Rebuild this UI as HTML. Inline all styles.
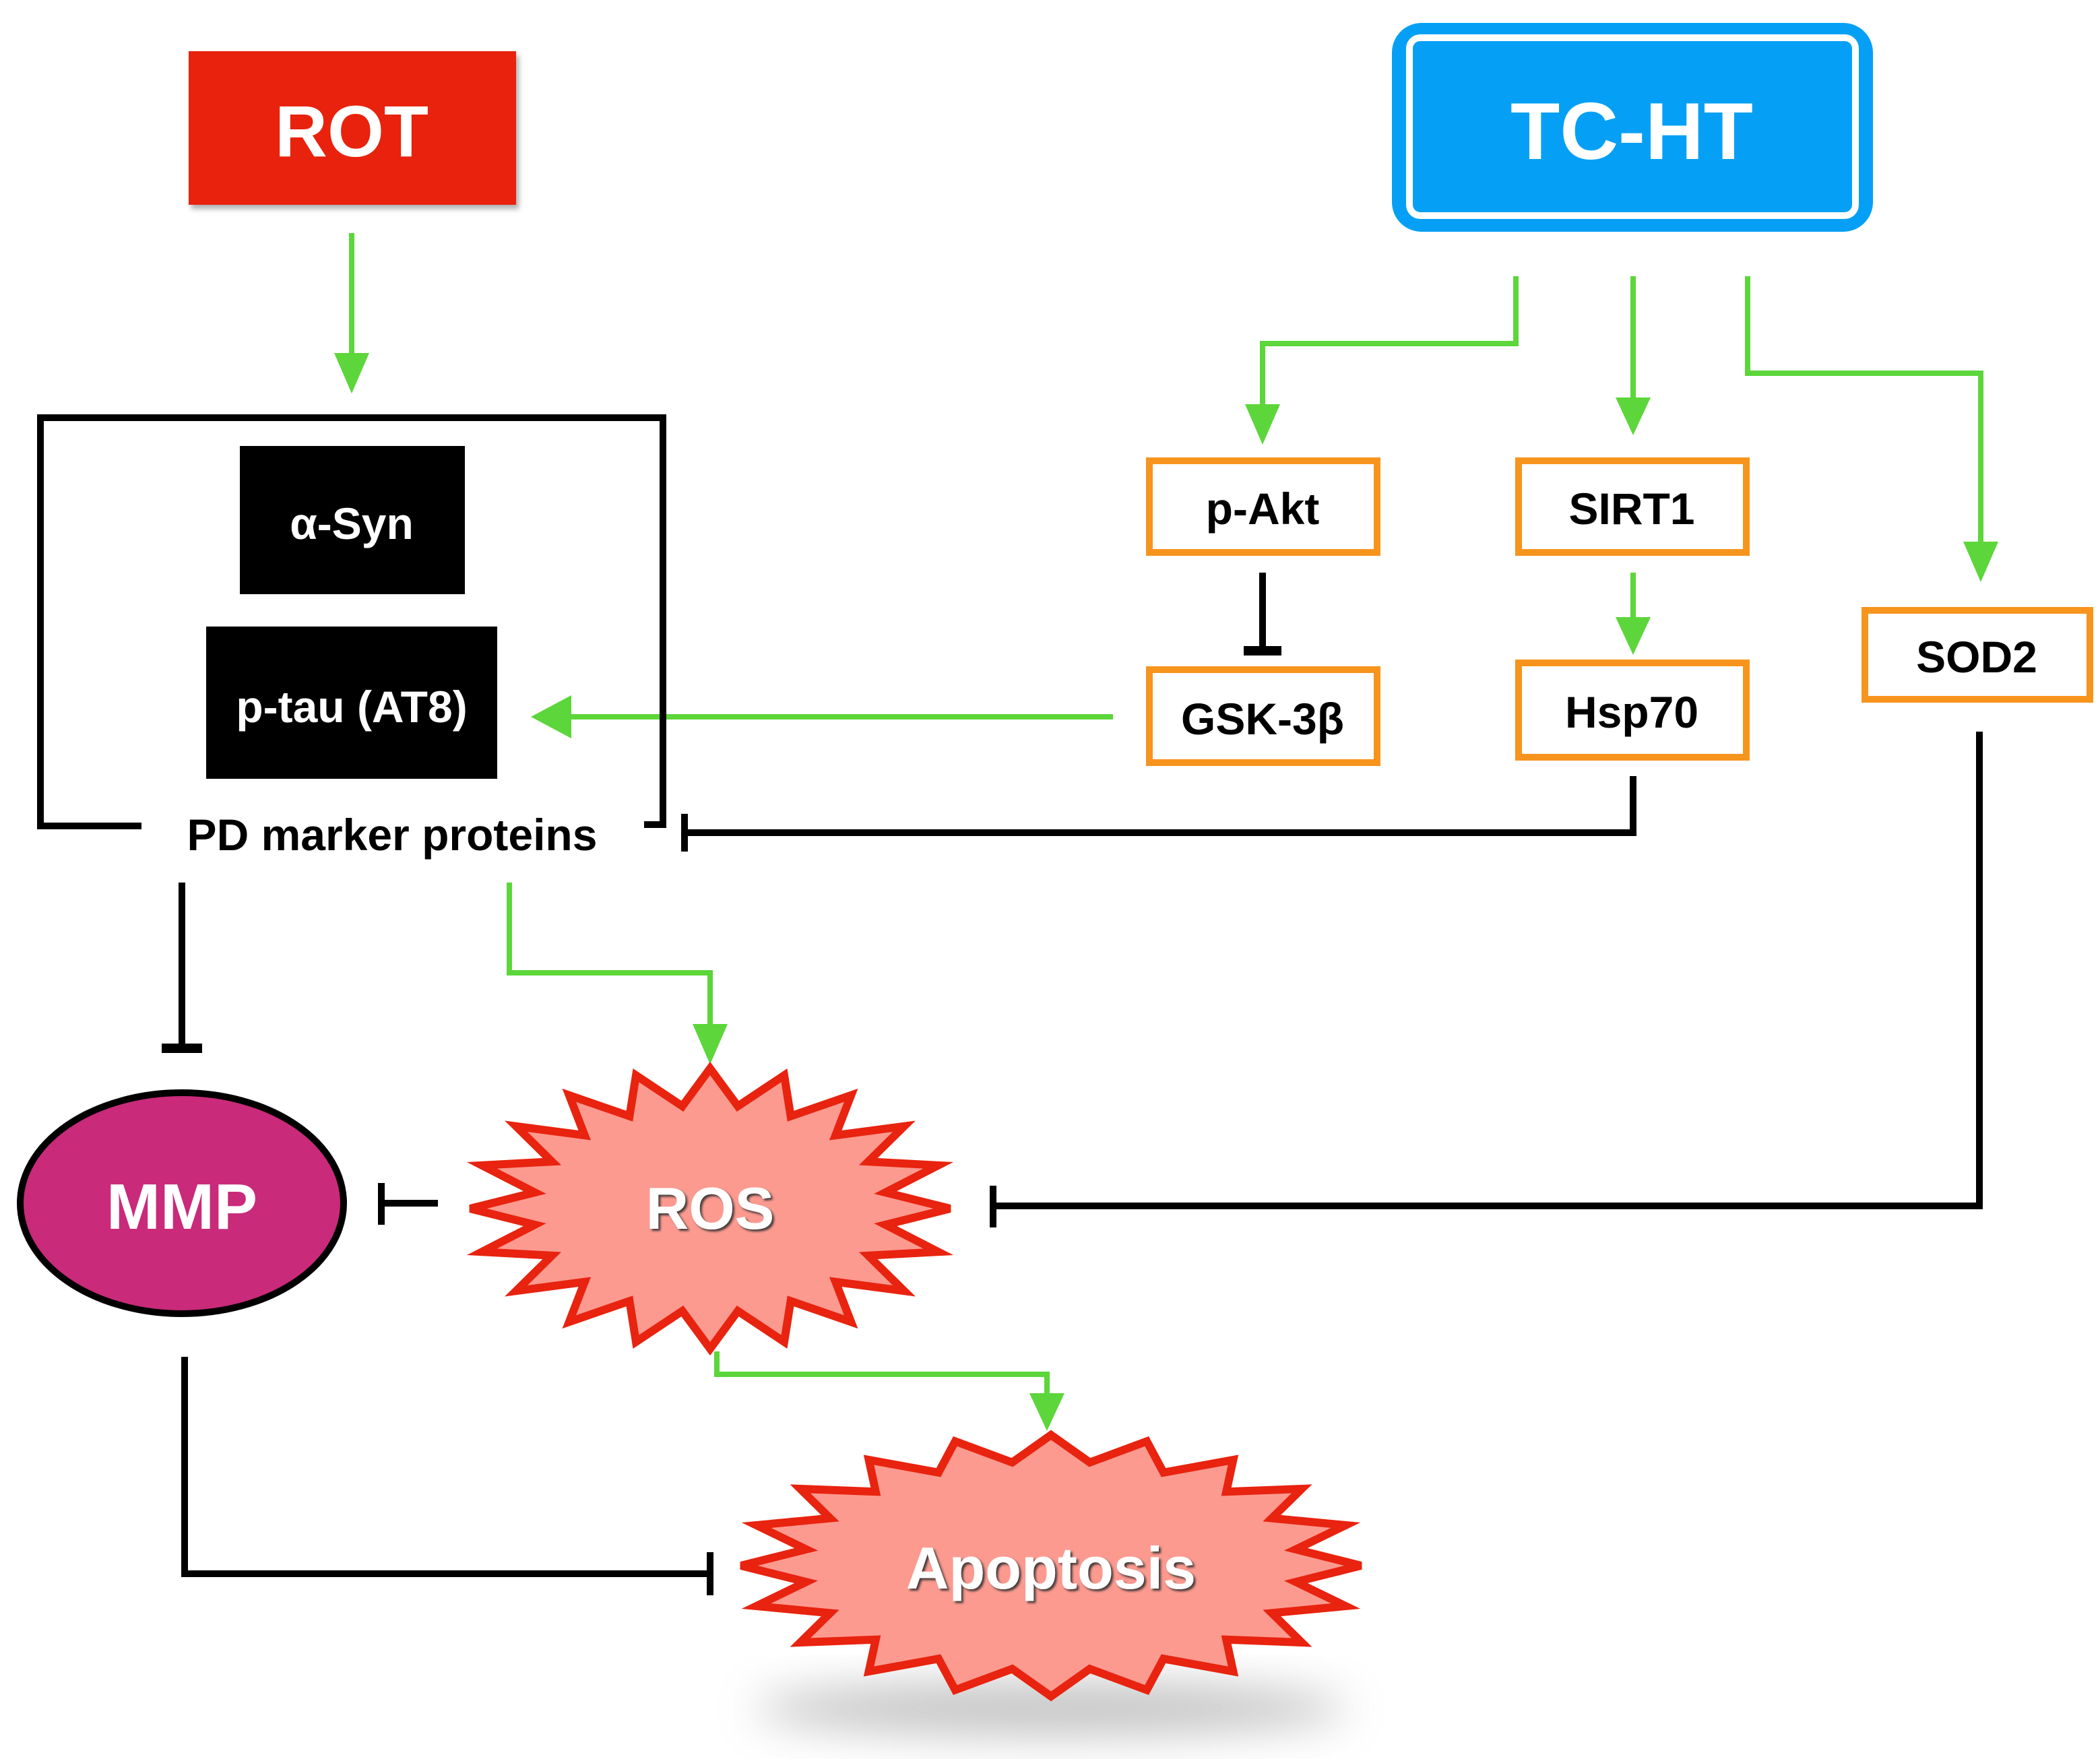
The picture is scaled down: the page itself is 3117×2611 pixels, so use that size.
<!DOCTYPE html>
<html><head><meta charset="utf-8">
<style>
html,body{margin:0;padding:0;background:#fff;}
svg{display:block;}
text{font-family:"Liberation Sans",Arial,sans-serif;font-weight:bold;}
</style></head>
<body>
<svg id="s" width="3117" height="2611" viewBox="0 0 1558.5 1305.5" xmlns="http://www.w3.org/2000/svg">
<defs>
<filter id="blur" x="-50%" y="-50%" width="200%" height="200%"><feGaussianBlur stdDeviation="16"/></filter>
<filter id="ds" x="-20%" y="-20%" width="140%" height="140%"><feDropShadow dx="2" dy="3" stdDeviation="2" flood-color="#999" flood-opacity="0.8"/></filter>
<filter id="ts" x="-20%" y="-20%" width="140%" height="140%"><feDropShadow dx="1.5" dy="1.5" stdDeviation="0.8" flood-color="#333" flood-opacity="0.9"/></filter>
</defs>
<rect width="1558.5" height="1305.5" fill="#fff"/>

<rect x="140" y="38" width="243" height="114" fill="#e8230f" filter="url(#ds)"/>
<text x="261" y="116" font-size="54" fill="#fff" text-anchor="middle">ROT</text>

<rect x="1033" y="17" width="357" height="155" rx="22" fill="#05a0f5"/>
<rect x="1046" y="28" width="331" height="132" rx="8" fill="none" stroke="#fff" stroke-width="5"/>
<text x="1211" y="118" font-size="60" fill="#fff" text-anchor="middle">TC-HT</text>

<g fill="none" stroke="#5cd63a" stroke-width="4">
<path d="M261 173 V268"/>
<path d="M1125 205 V255 H937 V305"/>
<path d="M1212 205 V300"/>
<path d="M1297 205 V277 H1470 V405"/>
<path d="M1212 425 V462"/>
<path d="M826 532 H420"/>
<path d="M378 655 V722 H527 V762"/>
<path d="M532 1003 V1020 H777 V1037"/>
</g>
<g fill="#5cd63a">
<polygon points="248,262 274,262 261,292"/>
<polygon points="924,300 950,300 937,330"/>
<polygon points="1199,295 1225,295 1212,323"/>
<polygon points="1457,402 1483,402 1470,432"/>
<polygon points="1199,458 1225,458 1212,486"/>
<polygon points="424,516 424,548 394,532"/>
<polygon points="514,760 540,760 527,790"/>
<polygon points="764,1034 790,1034 777,1062"/>
</g>

<g fill="none" stroke="#000" stroke-width="5">
<path d="M105 613 H30 V310 H492 V612 H478"/>
<path d="M937 425 V483"/><path d="M923 483 H951" stroke-width="7"/>
<path d="M1212 576 V618 H508"/><path d="M508 604 V632"/>
<path d="M135 655 V778"/><path d="M120 778 H150" stroke-width="7"/>
<path d="M325 893 H283"/><path d="M283 878 V909"/>
<path d="M1469 543 V895 H737"/><path d="M737 880 V911"/>
<path d="M137 1007 V1168 H527"/><path d="M527 1152 V1184"/>
</g>
<text x="291" y="631" font-size="33" fill="#000" text-anchor="middle">PD marker proteins</text>

<rect x="178" y="331" width="167" height="110" fill="#000"/>
<text x="261" y="400" font-size="33" fill="#fff" text-anchor="middle">α-Syn</text>
<rect x="153" y="465" width="216" height="113" fill="#000"/>
<text x="261" y="536" font-size="33" fill="#fff" text-anchor="middle">p-tau (AT8)</text>

<g fill="#fff" stroke="#f7941d" stroke-width="5">
<rect x="853" y="342" width="169" height="68"/>
<rect x="1127" y="342" width="169" height="68"/>
<rect x="853" y="497" width="169" height="69"/>
<rect x="1127" y="492" width="169" height="70"/>
<rect x="1384" y="453" width="167" height="66"/>
</g>
<g font-size="33" fill="#000" text-anchor="middle">
<text x="937" y="389">p-Akt</text>
<text x="1211" y="389">SIRT1</text>
<text x="937" y="545">GSK-3β</text>
<text x="1211" y="540">Hsp70</text>
<text x="1467" y="499">SOD2</text>
</g>

<ellipse cx="135" cy="893" rx="120" ry="82" fill="#c92a7a" stroke="#000" stroke-width="5"/>
<text x="135" y="912" font-size="48" fill="#fff" text-anchor="middle">MMP</text>

<ellipse cx="780" cy="1268" rx="220" ry="20" fill="#aaa" filter="url(#blur)" opacity="0.7"/>
<polygon id="ros" fill="#fc9a90" stroke="#e8230f" stroke-width="6" stroke-linejoin="miter"/>
<polygon id="apo" fill="#fc9a90" stroke="#e8230f" stroke-width="6" stroke-linejoin="miter"/>
<text x="527" y="912" font-size="44" fill="#fff" text-anchor="middle" filter="url(#ts)">ROS</text>
<text x="780" y="1179" font-size="44" fill="#fff" text-anchor="middle" filter="url(#ts)">Apoptosis</text>
</svg>
<script>
function star(id,cx,cy,rx,ry,n,k){var p=[];for(var i=0;i<2*n;i++){var a=-Math.PI/2+i*Math.PI/n;var f=i%2?k:1;p.push((cx+rx*f*Math.cos(a)).toFixed(1)+","+(cy+ry*f*Math.sin(a)).toFixed(1));}document.getElementById(id).setAttribute("points",p.join(" "));}
star("ros",527,897,178,104,20,0.74);
star("apo",780,1162,230,97,20,0.8);
</script>
</body></html>
